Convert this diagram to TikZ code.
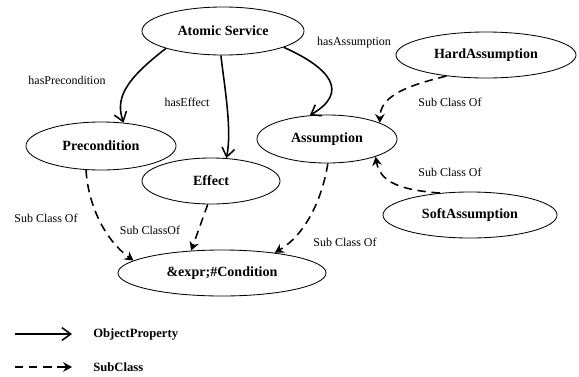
\documentclass[tikz,border=0pt]{standalone}
\usepackage{fontspec}
\setmainfont{Liberation Serif}
\usetikzlibrary{shapes.geometric,arrows.meta}

\tikzset{
  concept/.style={draw, ellipse, line width=0.6pt, inner sep=0pt,
                  font=\fontsize{10}{12}\selectfont\bfseries},
  relation/.style={line width=1.1pt, -{Straight Barb[length=2.2mm,width=3.2mm]}},
  subclass/.style={line width=1.1pt, dash pattern=on 6pt off 4pt,
                   -{Stealth[length=2.2mm,width=2.4mm]}},
  edgelabel/.style={inner sep=0pt, font=\fontsize{8.5}{10}\selectfont},
  legendtext/.style={inner sep=0pt, anchor=west, font=\fontsize{9}{11}\selectfont\bfseries}
}

\begin{document}
\begin{tikzpicture}[x=0.025cm, y=-0.025cm]
  \useasboundingbox (0,0) rectangle (579,376);

  % Concepts
  \node [concept, minimum width=4.05cm, minimum height=1.2cm]  (svc)  at (223,31)  {Atomic Service};
  \node [concept, minimum width=3.75cm, minimum height=1.2cm]  (pre)  at (101,146) {Precondition};
  \node [concept, minimum width=3.45cm, minimum height=1.15cm] (eff)  at (211,181) {Effect};
  \node [concept, minimum width=3.5cm,  minimum height=1.2cm]  (asm)  at (327,139) {Assumption};
  \node [concept, minimum width=4.5cm,  minimum height=1.15cm] (hard) at (486,55)  {HardAssumption};
  \node [concept, minimum width=4.35cm, minimum height=1.15cm] (soft) at (470,215) {SoftAssumption};
  \node [concept, minimum width=5.2cm,  minimum height=1.15cm] (cond) at (222,273) {\&expr;\#Condition};

  % Object properties
  \draw [relation] (svc.197) .. controls (122,82) and (116,100) .. (pre.46);
  \draw [relation] (svc.265) .. controls (225,90) and (232,130) .. (eff.56);
  \draw [relation] (svc.345) .. controls (330,68) and (350,92) .. (asm.126);

  % Sub class links
  \draw [subclass] (hard.208) .. controls (410,85) and (380,95) .. (asm.17);
  \draw [subclass] (soft.144) .. controls (400,190) and (380,182) .. (asm.340);
  \draw [subclass] (pre.238) .. controls (88,205) and (105,240) .. (cond.172);
  \draw [subclass] (eff.262) -- (cond.144);
  \draw [subclass] (asm.272) .. controls (322,200) and (305,235) .. (cond.21);

  % Edge labels
  \node [edgelabel] (lpre)  at (67,80)   {hasPrecondition};
  \node [edgelabel] (leff)  at (187,102) {hasEffect};
  \node [edgelabel] (lasm)  at (354,43)  {hasAssumption};
  \node [edgelabel] (lhard) at (450,102) {Sub Class Of};
  \node [edgelabel] (lsoft) at (450,172) {Sub Class Of};
  \node [edgelabel] (lacon) at (345,242) {Sub Class Of};
  \node [edgelabel] (lpcon) at (46,218)  {Sub Class Of};
  \node [edgelabel] (lecon) at (150,230) {Sub ClassOf};

  % Legend
  \coordinate (obja) at (15,334);
  \coordinate (objb) at (72,334);
  \coordinate (suba) at (15,367);
  \coordinate (subb) at (72,367);
  \draw [relation] (obja) -- (objb);
  \draw [subclass] (suba) -- (subb);
  \node [legendtext] (lobj) at (93,334) {ObjectProperty};
  \node [legendtext] (lsub) at (93,367) {SubClass};
\end{tikzpicture}
\end{document}
